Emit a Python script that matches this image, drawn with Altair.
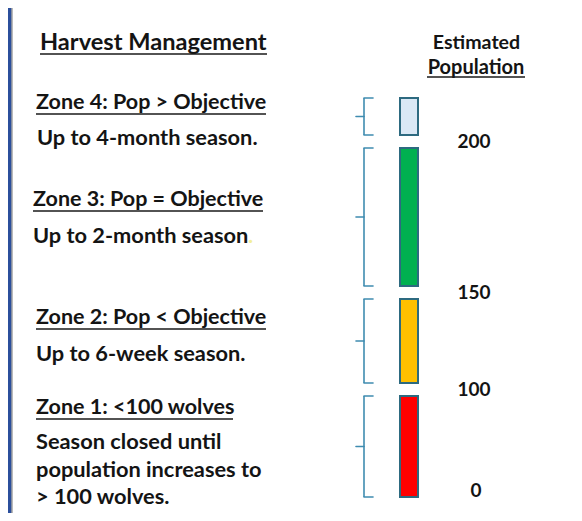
import altair as alt
import pandas as pd

# ---------------- data ----------------
zones = ["Zone 1", "Zone 2", "Zone 3", "Zone 4"]
pop_low = [0, 100, 150, 200]
pop_high = [100, 150, 200, 250]          # 250 = open-ended display cap for Zone 4
zone_titles = ["Zone 1: <100 wolves", "Zone 2: Pop < Objective",
               "Zone 3: Pop = Objective", "Zone 4: Pop > Objective"]
zone_notes = [["Season closed until", "population increases to", "> 100 wolves."],
              ["Up to 6-week season."],
              ["Up to 2-month season"],
              ["Up to 4-month season."]]
tick_values = [0, 100, 150, 200]
tick_labels = ["0", "100", "150", "200"]
header_left = "Harvest Management"
header_right = ["Estimated", "Population"]

# ---------------- styles / layout ----------------
zone_colors = ["#ff0000", "#ffc000", "#00b050", "#dae8f5"]
bar_stroke = "#2d6a80"
brace_color = "#3f8cb0"
text_color = "#141414"
FONT = "Lato"
GAP = 6.5
W, H = 566, 505
M = 8  # page margin: layout numbers below are page coordinates minus M

# piecewise population scale (visual, not linear in the original)
yscale = alt.Scale(domain=[0, 100, 150, 200, 250],
                   range=[495.5, 381.5, 284.5, 133.5, 83.5], nice=False, zero=False)

zdf = pd.DataFrame({"zone": zones, "lo": pop_low, "hi": pop_high})
tdf = pd.DataFrame({"value": tick_values, "label": tick_labels})

base = alt.Chart(zdf)

bars = base.mark_rect(yOffset=-GAP, y2Offset=GAP, stroke=bar_stroke, strokeWidth=2).encode(
    x=alt.value(392), x2=alt.value(410),
    y=alt.Y("lo:Q", scale=yscale, axis=None), y2="hi:Q",
    fill=alt.Fill("zone:N", scale=alt.Scale(domain=zones, range=zone_colors), legend=None),
)

brace_v = base.mark_rule(yOffset=-GAP, y2Offset=GAP, color=brace_color, strokeWidth=1.6).encode(
    x=alt.value(356), y=alt.Y("lo:Q", scale=yscale, axis=None), y2="hi:Q")
brace_top = base.mark_rule(yOffset=GAP, color=brace_color, strokeWidth=1.6, strokeCap="round").encode(
    x=alt.value(356), x2=alt.value(365), y=alt.Y("hi:Q", scale=yscale, axis=None))
brace_bot = base.mark_rule(yOffset=-GAP, color=brace_color, strokeWidth=1.6, strokeCap="round").encode(
    x=alt.value(356), x2=alt.value(365), y=alt.Y("lo:Q", scale=yscale, axis=None))
brace_mid = base.transform_calculate(mid="(datum.lo + datum.hi) / 2").mark_rule(
    color=brace_color, strokeWidth=1.6, strokeCap="round").encode(
    x=alt.value(348), x2=alt.value(356), y=alt.Y("mid:Q", scale=yscale, axis=None))

num_style = dict(align="center", baseline="middle", font=FONT, fontWeight="bold",
                 fontSize=19, color=text_color)
nums = alt.Chart(tdf).transform_filter("datum.value > 0").mark_text(**num_style).encode(
    x=alt.value(466), y=alt.Y("value:Q", scale=yscale, axis=None), text="label:N")
num0 = alt.Chart(tdf).transform_filter("datum.value == 0").mark_text(dy=-13, **num_style).encode(
    x=alt.value(468), y=alt.Y("value:Q", scale=yscale, axis=None), text="label:N")


def label(text, x, yc, size, align="left", color=text_color):
    # yc: visual centre of the line, page coordinates
    return alt.Chart(alt.Data(values=[{"t": text}])).mark_text(
        align=align, baseline="middle", font=FONT, fontWeight="bold",
        fontSize=size, color=color).encode(
        x=alt.value(x - M), y=alt.value(yc - M + 1), text="t:N")


def underline(x1, x2, y):
    return alt.Chart(alt.Data(values=[{}])).mark_rule(color="#1a1a1a", strokeWidth=1.5).encode(
        x=alt.value(x1 - M), x2=alt.value(x2 - M), y=alt.value(y - M))


layers = [bars, brace_v, brace_top, brace_bot, brace_mid, nums, num0]

# headers
layers += [label(header_left, 40, 42, 23.6), underline(40, 267, 54)]
layers += [label(header_right[0], 476.5, 42, 19.6, align="center"),
           label(header_right[1], 476, 67, 20, align="center"),
           underline(427, 525, 77)]

# zone texts: (x, centre y, underline end)
title_pos = {3: (36, 102, 266), 2: (33, 199, 263), 1: (36, 317, 266), 0: (36, 407, 233)}
note_pos = {3: [(37, 137)], 2: [(33, 235)], 1: [(36, 353)],
            0: [(36, 441), (36, 469), (36, 496)]}
for i in range(4):
    tx, ty, ux2 = title_pos[i]
    layers += [label(zone_titles[i], tx, ty, 21.5), underline(tx, ux2, ty + 12)]
    for line, (nx, ny) in zip(zone_notes[i], note_pos[i]):
        layers.append(label(line, nx, ny, 21.8))

# faint yellow dot after "Up to 2-month season"
layers.append(label(".", 248, 235, 21.8, color="#f3ef9a"))

# left page border
border = alt.Chart(alt.Data(values=[{}])).mark_rect(color="#2b4f9c").encode(
    x=alt.value(0), x2=alt.value(3.5), y=alt.value(0), y2=alt.value(H))
border_line = alt.Chart(alt.Data(values=[{}])).mark_rule(color="#777777", strokeWidth=1).encode(
    x=alt.value(4), y=alt.value(0), y2=alt.value(H))
layers += [border, border_line]

chart = alt.layer(*layers).properties(
    width=W, height=H, autosize="none", padding=0, background="white"
).configure_view(strokeWidth=0)

chart.save("out.html", embed_options={"renderer": "svg", "actions": False})
